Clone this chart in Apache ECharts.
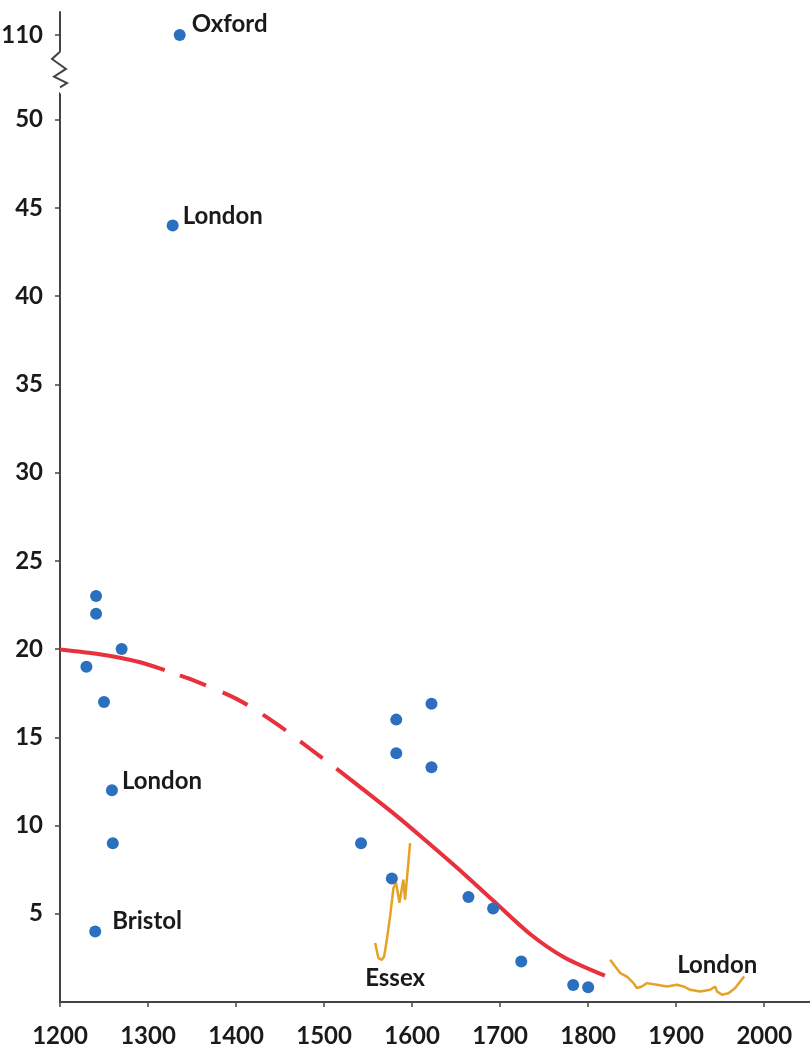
<!DOCTYPE html>
<html>
<head>
<meta charset="utf-8">
<script src="https://cdn.jsdelivr.net/npm/echarts@6/dist/echarts.min.js"></script>
<style>
html,body{margin:0;padding:0;background:#fff;}
#chart{width:810px;height:1050px;}
</style>
</head>
<body>
<div id="chart"></div>
<script>
// ---------- data ----------
const xTickValues = [1200,1300,1400,1500,1600,1700,1800,1900,2000];
const yTickValues = [5,10,15,20,25,30,35,40,45,50,110];

const dotYears  = [1336,1328,1241,1241,1270,1230,1250,1259,1260,1240,1542,1582,1582,1622,1622,1577,1664,1692,1724,1783,1800];
const dotValues = [110, 44,  23,  22,  20,  19,  17,  12,  9,   4,   9,   16,  14.1,16.9,13.3,7,   5.95,5.3, 2.3, 0.96,0.84];
const dotNames  = ['Oxford','London','','','','','','London','','Bristol','','','','','','','','','','',''];

const trendSolidAYears  = [1200,1245,1291,1319];
const trendSolidAValues = [19.97,19.7,19.25,18.8];
const trendDashYears    = [1319,1351,1401,1444,1484,1514];
const trendDashValues   = [18.8,18.24,17.16,15.83,14.35,13.22];
const trendSolidBYears  = [1514,1583,1620,1658,1692,1734,1772,1819];
const trendSolidBValues = [13.22,10.52,8.95,7.3,5.75,3.85,2.55,1.49];

const essexYears  = [1558,1561.7,1565.6,1568.2,1571.3,1575,1578.8,1581.8,1585.6,1590,1592,1597.7];
const essexValues = [3.34,2.49,2.39,2.58,3.53,4.85,6.46,6.76,5.62,6.93,5.8,9.0];

const londonYears  = [1825,1830.7,1836.4,1844,1851.5,1855.3,1861,1866.7,1878,1889.4,1900.8,1908.3,1915.9,1927.3,1938.6,1944.3,1946.3,1952,1959.4,1967,1972.7,1977.3];
const londonValues = [2.39,2.01,1.64,1.44,1.07,0.79,0.88,1.07,0.98,0.88,0.98,0.88,0.69,0.59,0.69,0.88,0.6,0.41,0.5,0.79,1.16,1.45];

const annotationTexts  = ['Essex','London'];
const annotationYears  = [1580.7,1946.6];
const annotationValues = [1.37,2.1];

// ---------- styles ----------
const FONT = 'Lato';
const TXT = '#1a1a1a';
const BLUE = '#2B70BE';
const RED = '#E8313D';
const ORANGE = '#E5A224';
const AXIS = '#444';
const labelStyleByIndex = {
  0: {distance: 6, offset: [0, -11]},
  1: {distance: 4, offset: [0, -9]},
  7: {distance: 4, offset: [0, -9]},
  9: {distance: 11, offset: [0, -10]}
};

const pair = (xs, ys) => xs.map((x, i) => [x, ys[i]]);
const textStyle = {fontFamily: FONT, fontWeight: 'bold', fontSize: 24, color: TXT};

const dotData = dotYears.map((x, i) => {
  const item = {value: [x, dotValues[i]], name: dotNames[i]};
  if (dotNames[i]) {
    const s = labelStyleByIndex[i] || {distance: 5, offset: [0, -9]};
    item.label = Object.assign({show: true, position: 'right', formatter: '{b}', distance: s.distance, offset: s.offset}, textStyle);
  }
  return item;
});

const chart = echarts.init(document.getElementById('chart'), null, {renderer: 'canvas'});

const option = {
  animation: false,
  backgroundColor: '#fff',
  grid: {left: 60, right: 0, top: 12, bottom: 48, outerBoundsMode: 'none'},
  xAxis: {
    type: 'value', min: 1200, max: 2052, interval: 100,
    axisLine: {show: true, onZero: false, lineStyle: {color: AXIS, width: 2}},
    axisTick: {show: true, length: 5, lineStyle: {color: AXIS, width: 1.5}, customValues: xTickValues},
    axisLabel: Object.assign({margin: 22, customValues: xTickValues, formatter: v => String(v)}, textStyle),
    splitLine: {show: false}
  },
  yAxis: {
    type: 'value', min: 0, max: 111.3, interval: 5,
    breaks: [{start: 51.5, end: 108.5, gap: '3.2%'}],
    breakArea: {show: true, zigzagAmplitude: 0, expandOnClick: false,
      itemStyle: {color: '#fff', borderWidth: 0, borderColor: '#fff', opacity: 1}},
    axisLine: {show: true, onZero: false, lineStyle: {color: AXIS, width: 2}},
    axisTick: {show: true, length: 5, lineStyle: {color: AXIS, width: 1.5}, customValues: yTickValues},
    axisLabel: Object.assign({margin: 17, customValues: yTickValues, formatter: v => String(v)}, textStyle),
    splitLine: {show: false}
  },
  series: [
    {type: 'line', data: pair(trendSolidAYears, trendSolidAValues), smooth: 0.3, symbol: 'none',
      lineStyle: {color: RED, width: 4}, z: 2},
    {type: 'line', data: pair(trendDashYears, trendDashValues), smooth: 0.3, symbol: 'none',
      lineStyle: {color: RED, width: 4, type: [28, 18], dashOffset: 30}, z: 2},
    {type: 'line', data: pair(trendSolidBYears, trendSolidBValues), smooth: 0.3, symbol: 'none',
      lineStyle: {color: RED, width: 4}, z: 2},
    {type: 'line', data: pair(essexYears, essexValues), symbol: 'none',
      lineStyle: {color: ORANGE, width: 2.5}, z: 2},
    {type: 'line', data: pair(londonYears, londonValues), symbol: 'none',
      lineStyle: {color: ORANGE, width: 2.5}, z: 2},
    {type: 'scatter', data: dotData, symbolSize: 12, itemStyle: {color: BLUE, opacity: 1}, z: 3,
      label: Object.assign({show: false}, textStyle)},
    {type: 'scatter', symbolSize: 0, silent: true, z: 4, itemStyle: {opacity: 1},
      data: annotationYears.map((x, i) => ({value: [x, annotationValues[i]], name: annotationTexts[i]})),
      label: Object.assign({show: true, position: 'inside', formatter: '{b}'}, textStyle)}
  ]
};
chart.setOption(option);

// zigzag break mark on the y axis line (decoration between the 50 and 110 ticks)
const p50 = chart.convertToPixel({yAxisIndex: 0}, 50);
const p110 = chart.convertToPixel({yAxisIndex: 0}, 110);
const ax = chart.convertToPixel({xAxisIndex: 0}, 1200);
const yTop = p110 + 0.2 * (p50 - p110);
const span = 0.42 * (p50 - p110);
const zz = [[0,0],[-8,0.2],[6,0.48],[-6,0.7],[7,0.88],[0,1]].map(p => [ax + p[0], yTop + p[1] * span]);
chart.setOption({
  graphic: [
    {type: 'rect', shape: {x: ax - 3, y: yTop, width: 6, height: span}, style: {fill: '#fff'}, z: 100},
    {type: 'polyline', shape: {points: zz}, style: {stroke: AXIS, lineWidth: 2, fill: null}, z: 101}
  ]
});
</script>
</body>
</html>
